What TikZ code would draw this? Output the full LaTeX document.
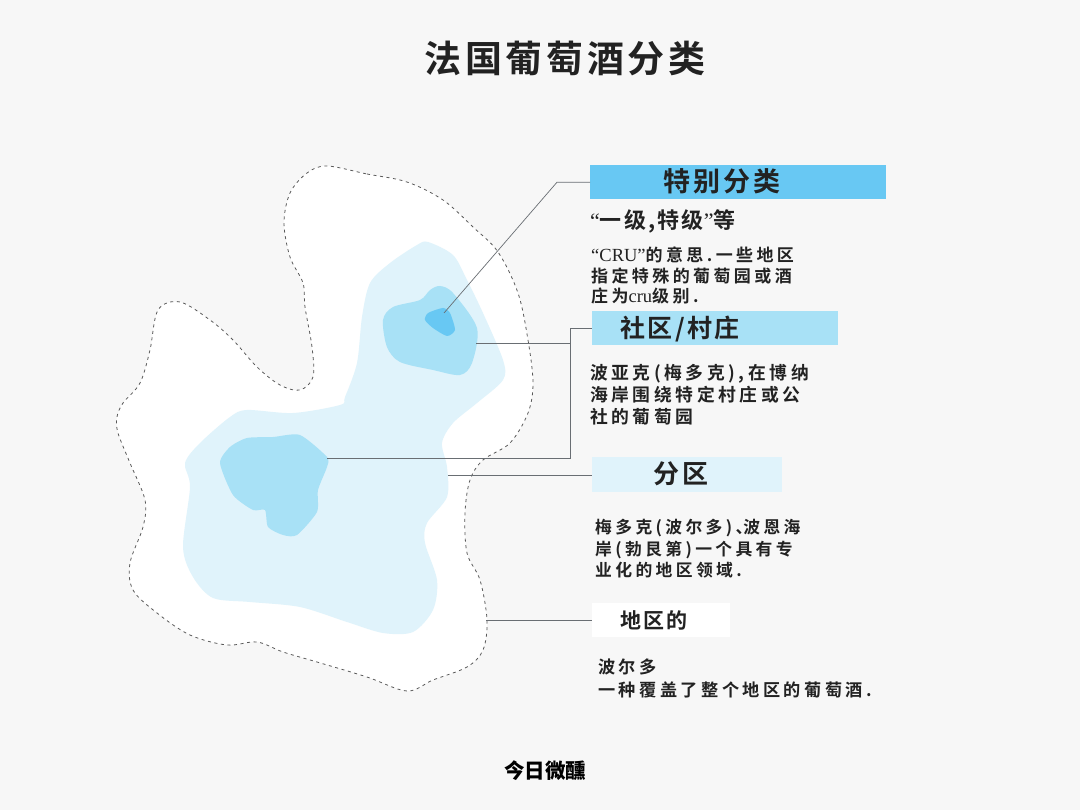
\documentclass[tikz,border=0pt]{standalone}
\usepackage{xcolor}
\usepackage{fontspec}
\usepackage{tikz}
\usetikzlibrary{positioning, calc}
\newfontfamily\cjkhead[LetterSpace=10]{Noto Sans CJK SC Bold}
\newfontfamily\cjkbody[LetterSpace=20]{Noto Sans CJK SC Bold}
\newfontfamily\cjklogo{Noto Sans CJK SC Black}
\newfontfamily\latinserif{Liberation Serif}
\definecolor{pagebg}{RGB}{247,247,247}
\definecolor{inkdark}{RGB}{34,34,34}
\definecolor{wiregray}{RGB}{105,110,115}
\definecolor{tierone}{RGB}{104,200,243}
\definecolor{tiertwo}{RGB}{168,225,246}
\definecolor{tierthree}{RGB}{224,243,251}
\tikzset{
  headbox/.style={rectangle, anchor=north west, inner sep=0pt},
  headtext/.style={font=\cjkhead\fontsize{25}{27}\selectfont, color=inkdark, inner sep=0pt},
  bodytext/.style={anchor=north west, align=left, inner sep=0pt, color=inkdark,
    font=\cjkbody\fontsize{17}{20.5}\selectfont},
  wire/.style={line width=0.7pt, color=wiregray},
  outline/.style={dash pattern=on 3pt off 3.6pt, line width=0.8pt, color=black!65}
}

\begin{document}
\begin{tikzpicture}[x=1pt, y=-1pt]
  \useasboundingbox[fill=pagebg] (0,0) rectangle (1080,810);

  % Outer region
  \draw[outline, fill=white] plot[smooth cycle, tension=0.55] coordinates {
    (327,166) (367,174) (407,182) (443,200) (473,227) (498,252) (518,293) (528,340)
    (533,383) (528,413) (510,443) (483,460) (470,480) (465,513) (467,553) (480,580)
    (487,620) (483,650) (467,667) (433,680) (407,691) (367,677) (317,662) (283,652)
    (257,642) (227,645) (190,635) (157,613) (133,590) (130,563) (143,527) (145,500)
    (130,463) (118,433) (117,417) (123,403) (140,383) (150,350) (158,310) (180,302)
    (210,320) (233,340) (257,367) (280,385) (300,390) (313,377) (312,347) (305,307)
    (303,283) (290,257) (284,223) (290,193) (307,173)};

  % Subregion
  \fill[tierthree] plot[smooth cycle, tension=0.5] coordinates {
    (428,242) (453,255) (467,280) (483,313) (503,360) (503,380) (477,403) (453,423)
    (442,443) (447,467) (447,497) (427,523) (425,543) (437,580) (433,610) (413,632)
    (383,633) (347,622) (300,607) (250,602) (213,598) (193,577) (183,547) (190,487)
    (185,463) (200,443) (230,417) (247,410) (293,413) (340,405) (345,397) (357,363)
    (362,317) (370,283) (390,263) (417,245)};

  % Villages
  \fill[tiertwo] plot[smooth cycle, tension=0.5] coordinates {
    (440,286) (453,293) (477,328) (472,363) (460,375) (433,370) (400,362) (387,347)
    (383,320) (393,307) (420,300) (430,290)};
  \fill[tiertwo] plot[smooth cycle, tension=0.4] coordinates {
    (300,435) (327,457) (327,467) (318,490) (317,512) (297,535) (283,535) (268,527)
    (265,510) (253,510) (233,495) (220,463) (230,447) (247,438) (273,437)};

  % Cru
  \fill[tierone] plot[smooth cycle, tension=0.4] coordinates {
    (443,308) (450,313) (455,330) (447,336) (433,328) (425,320) (428,313)};

  % Title
  \node[font=\cjkhead\fontsize{37}{39}\selectfont, color=inkdark, inner sep=0pt] (title) at (565,58) {法国葡萄酒分类};

  % Heading bars
  \node[headbox, fill=tierone, minimum width=296pt, minimum height=34pt] (special) at (590,165) {};
  \node[headbox, fill=tiertwo, minimum width=246pt, minimum height=34pt] (village) at (592,311) {};
  \node[headbox, fill=tierthree, minimum width=190pt, minimum height=35pt] (district) at (592,457) {};
  \node[headbox, fill=white, minimum width=138pt, minimum height=34pt] (regional) at (592,603) {};

  \node[headtext, font=\cjkhead\fontsize{27}{29}\selectfont] (specialhd) at (722,181) {特别分类};
  \node[headtext] (villagehd) at (680,329) {社区/村庄};
  \node[headtext, font=\cjkhead\fontsize{26}{28}\selectfont] (districthd) at (681,474) {分区};
  \node[headtext, font=\cjkhead\fontsize{21}{23}\selectfont] (regionalhd) at (654,620) {地区的};

  % Texts
  \node[bodytext, font=\cjkhead\fontsize{22}{24}\selectfont] (grades) at (590,209) {{\latinserif “}一级,特级{\latinserif ”}等};
  \node[bodytext] (crutext) at (591,247) {{\latinserif\fontsize{18.5}{20.5}\selectfont “CRU”}的意思.一些地区\\指定特殊的葡萄园或酒\\庄为{\latinserif\fontsize{18.5}{20.5}\selectfont cru}级别.};
  \node[bodytext, font=\cjkbody\fontsize{17.8}{22}\selectfont] (villagetext) at (590,364) {波亚克(梅多克),在博纳\\海岸围绕特定村庄或公\\社的葡萄园};
  \node[bodytext, font=\cjkbody\fontsize{16.8}{21.5}\selectfont] (districttext) at (595,519) {梅多克(波尔多)、\kern-9pt 波恩海\\岸(勃艮第)一个具有专\\业化的地区领域.};
  \node[bodytext, font=\cjkbody\fontsize{17.2}{23}\selectfont] (regionaltext) at (598,659) {波尔多\\一种覆盖了整个地区的葡萄酒.};
  \node[font=\cjklogo\fontsize{20.5}{22}\selectfont, color=black, inner sep=0pt] (logo) at (545,771) {今日微醺};

  % Connectors
  \coordinate (cruanchor) at (444,313);
  \coordinate (bendone) at (557,182);
  \coordinate (villageone) at (476,343);
  \coordinate (villagetwo) at (327,458);
  \coordinate (railtop) at (570,328);
  \coordinate (districtanchor) at (448,475);
  \coordinate (regionalanchor) at (486,620);

  \draw[wire] (cruanchor) -- (special.west -| bendone) -- (special.west);
  \draw[wire] (villagetwo) -| (village.west -| railtop) -- (village.west);
  \draw[wire] (villageone) -- (villageone -| railtop);
  \draw[wire] (districtanchor) -- (districtanchor -| district.west);
  \draw[wire] (regionalanchor) -- (regionalanchor -| regional.west);
\end{tikzpicture}
\end{document}
